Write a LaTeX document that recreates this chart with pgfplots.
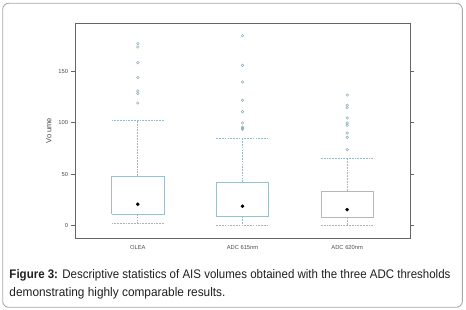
\documentclass[border=0pt]{standalone}
\usepackage{pgfplots}
\pgfplotsset{compat=1.18}
\usepackage{fontspec}
\setmainfont{Liberation Sans}
\usepackage{graphicx}
\definecolor{boxc}{HTML}{A3BEC7}
\definecolor{whc}{HTML}{9DB8C3}
\definecolor{outc}{HTML}{8DAEBD}
\definecolor{framec}{HTML}{A8A8A8}
\definecolor{axc}{HTML}{666666}
\pgfplotsset{
  bx/.style={boxc, solid, line width=0.8bp, mark=none},
  wh/.style={whc, dash pattern=on 1.7bp off 1.1bp, line width=0.75bp, mark=none},
  ol/.style={only marks, mark=o, mark size=1.3bp, mark options={draw=outc, solid, line width=0.5bp}},
}
\begin{document}
\begin{tikzpicture}
\path[use as bounding box] (0bp,0bp) rectangle (466bp,310bp);
\draw[framec, line width=0.9bp, rounded corners=6bp] (2.7bp,2.7bp) rectangle (462.3bp,306.7bp);
\begin{axis}[
  at={(75bp,71.7bp)}, anchor=south west,
  scale only axis, width=335bp, height=215bp,
  xmin=0.4, xmax=3.6, ymin=-12.3, ymax=196.3,
  xtick={1,2,3}, xticklabels={OLEA, ADC 615nm, ADC 620nm},
  ytick={0,50,100,150},
  ytick pos=both, yticklabel pos=left,
  xtick pos=bottom,
  x tick style={draw=none},
  y tick style={axc, line width=0.5bp},
  tick align=outside, major tick length=3.5bp,
  axis line style={axc, line width=1bp},
  ticklabel style={font=\fontsize{5.8}{6.5}\selectfont, text=black!70},
  /pgf/number format/assume math mode=true,
  ylabel={Vo ume}, ylabel style={font=\fontsize{7.5}{8}\selectfont, text=black!75},
]
% OLEA
\addplot[bx] coordinates {(0.75,11.3) (1.25,11.3) (1.25,48.2) (0.75,48.2) (0.75,11.3)};
\addplot[wh] coordinates {(1,48.2) (1,102.5)};
\addplot[wh] coordinates {(0.75,102.5) (1.25,102.5)};
\addplot[wh] coordinates {(1,11.3) (1,2.2)};
\addplot[wh] coordinates {(0.75,2.2) (1.25,2.2)};
\addplot[ol] coordinates {(1,176.6) (1,173.3) (1,158.1) (1,143.6) (1,130.6) (1,128.1) (1,119.0)};
% ADC 615nm
\addplot[bx] coordinates {(1.75,8.7) (2.25,8.7) (2.25,42.3) (1.75,42.3) (1.75,8.7)};
\addplot[wh] coordinates {(2,42.3) (2,85.0)};
\addplot[wh] coordinates {(1.75,85.0) (2.25,85.0)};
\addplot[wh] coordinates {(2,8.7) (2,0.3)};
\addplot[wh] coordinates {(1.75,0.3) (2.25,0.3)};
\addplot[ol] coordinates {(2,184.3) (2,155.5) (2,139.3) (2,121.6) (2,110.6) (2,99.5) (2,95.4) (2,94.4) (2,93.6)};
% ADC 620nm
\addplot[bx] coordinates {(2.75,7.8) (3.25,7.8) (3.25,33.6) (2.75,33.6) (2.75,7.8)};
\addplot[wh] coordinates {(3,33.6) (3,65.6)};
\addplot[wh] coordinates {(2.75,65.6) (3.25,65.6)};
\addplot[wh] coordinates {(3,7.8) (3,0.3)};
\addplot[wh] coordinates {(2.75,0.3) (3.25,0.3)};
\addplot[ol] coordinates {(3,126.7) (3,116.7) (3,114.5) (3,104.4) (3,99.5) (3,97.3) (3,89.8) (3,85.7) (3,73.7)};
% centre dots
\addplot[only marks, mark=*, mark size=1.6bp, black] coordinates {(1,20.7) (2,18.7) (3,15.5)};
\end{axis}
\node[anchor=base west, inner sep=0, text=black!88] at (9.3bp,31.5bp) {\resizebox{441bp}{\height}{\fontsize{12.5}{14}\selectfont\textbf{Figure 3:} Descriptive statistics of AIS volumes obtained with the three ADC thresholds}};
\node[anchor=base west, inner sep=0, text=black!88] at (9.3bp,13.5bp) {\resizebox{216bp}{\height}{\fontsize{12.5}{14}\selectfont demonstrating highly comparable results.}};
\end{tikzpicture}
\end{document}
